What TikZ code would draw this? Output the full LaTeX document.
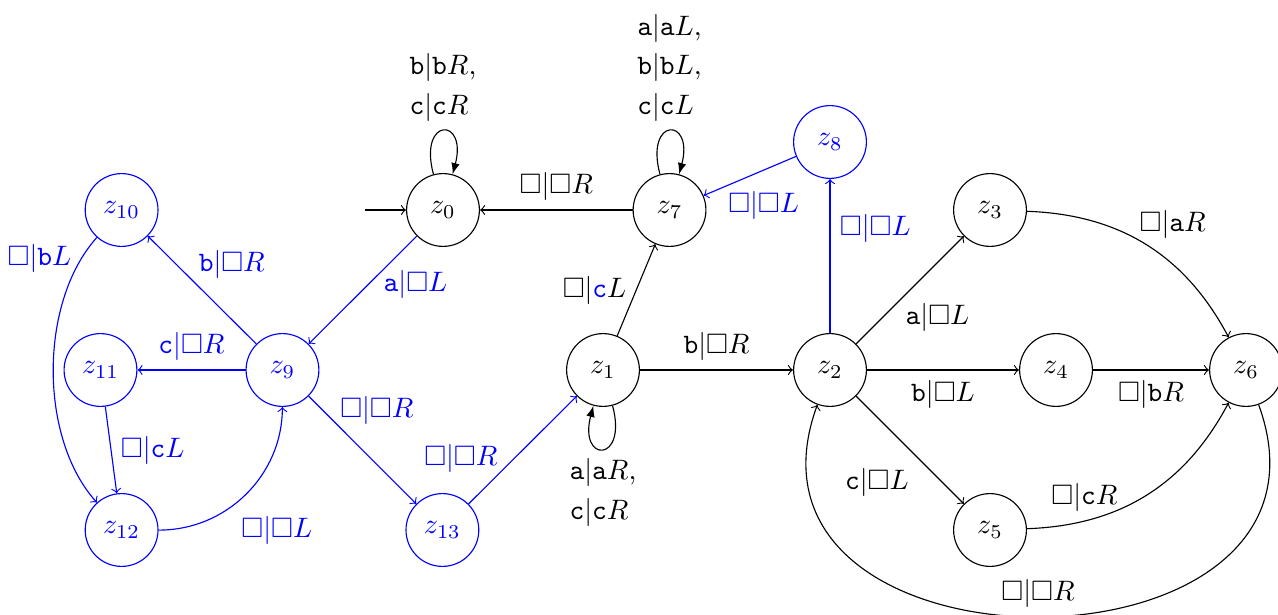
\documentclass[tikz,border=0pt]{standalone}
\usepackage{amssymb}
\usetikzlibrary{arrows}
\begin{document}
\begin{tikzpicture}[x=1cm,y=1cm]
\tikzset{
  state/.style={circle, draw, minimum size=0.91cm, inner sep=0pt},
  bstate/.style={state, blue},
  tr/.style={->},
  btr/.style={->, blue},
  lp/.style={-latex}
}
\clip (0,0) rectangle (15.975,-7.6875);

% states
\node[state]  (z0)  at (5.5375,-2.625) {$z_0$};
\node[state]  (z7)  at (8.369,-2.625)  {$z_7$};
\node[bstate] (z8)  at (10.375,-1.775) {$z_8$};
\node[state]  (z3)  at (12.375,-2.625) {$z_3$};
\node[state]  (z1)  at (7.5375,-4.625) {$z_1$};
\node[state]  (z2)  at (10.375,-4.625) {$z_2$};
\node[state]  (z4)  at (13.2,-4.625)   {$z_4$};
\node[state]  (z6)  at (15.575,-4.625) {$z_6$};
\node[state]  (z5)  at (12.375,-6.625) {$z_5$};
\node[bstate] (z9)  at (3.531,-4.625)  {$z_9$};
\node[bstate] (z10) at (1.52,-2.625)   {$z_{10}$};
\node[bstate] (z11) at (1.256,-4.625)  {$z_{11}$};
\node[bstate] (z12) at (1.52,-6.625)   {$z_{12}$};
\node[bstate] (z13) at (5.53,-6.625)   {$z_{13}$};
\coordinate (init) at (4.5625,-2.625);

% initial state
\draw[tr] (init) -- (z0);

% loops
\draw[lp] (z0) to[loop above] node[above,align=left] {$\mathtt{b}|\mathtt{b}R$,\\[2pt]$\mathtt{c}|\mathtt{c}R$} (z0);
\draw[lp] (z7) to[loop above] node[above,align=left] {$\mathtt{a}|\mathtt{a}L$,\\[2pt]$\mathtt{b}|\mathtt{b}L$,\\[2pt]$\mathtt{c}|\mathtt{c}L$} (z7);
\draw[lp] (z1) to[loop below] node[below,align=left] {$\mathtt{a}|\mathtt{a}R$,\\[2pt]$\mathtt{c}|\mathtt{c}R$} (z1);

% main machine
\draw[tr] (z7) -- node[above] {$\square|\square R$} (z0);
\draw[tr] (z1) -- node[left] {$\square|{\color{blue}\mathtt{c}}L$} (z7);
\draw[tr] (z1) -- node[above] {$\mathtt{b}|\square R$} (z2);
\draw[tr] (z2) -- node[below right=-2pt, pos=0.42] {$\mathtt{a}|\square L$} (z3);
\draw[tr] (z2) -- node[below] {$\mathtt{b}|\square L$} (z4);
\draw[tr] (z2) -- node[below left, pos=0.58] {$\mathtt{c}|\square L$} (z5);
\draw[tr] (z3) to[bend left=30] node[above right=-3pt, pos=0.46] {$\square|\mathtt{a}R$} (z6);
\draw[tr] (z4) -- node[below] {$\square|\mathtt{b}R$} (z6);
\draw[tr] (z5) to[bend right=30] node[above, pos=0.22] {$\square|\mathtt{c}R$} (z6);
\draw[tr] (z6) to[out=-70,in=-110,looseness=1.75] node[above] {$\square|\square R$} (z2);

% blue part
\draw[btr] (z2) -- node[right, pos=0.68] {$\square|\square L$} (z8);
\draw[btr] (z8) -- node[below=4pt, pos=0.35] {$\square|\square L$} (z7);
\draw[btr] (z0) -- node[right=2pt, pos=0.45] {$\mathtt{a}|\square L$} (z9);
\draw[btr] (z9) -- node[above right=-2pt, pos=0.57] {$\mathtt{b}|\square R$} (z10);
\draw[btr] (z9) -- node[above] {$\mathtt{c}|\square R$} (z11);
\draw[btr] (z9) -- node[above right=-3pt, pos=0.28] {$\square|\square R$} (z13);
\draw[btr] (z13) -- node[above left=-3pt, pos=0.28] {$\square|\square R$} (z1);
\draw[btr] (z11) -- node[right] {$\square|\mathtt{c}L$} (z12);
\draw[btr] (z10) to[out=-132,in=132,looseness=0.84] node[left, pos=0.1] {$\square|\mathtt{b}L$} (z12);
\draw[btr] (z12) to[bend right=45] node[below right, pos=0.4] {$\square|\square L$} (z9);
\end{tikzpicture}
\end{document}
